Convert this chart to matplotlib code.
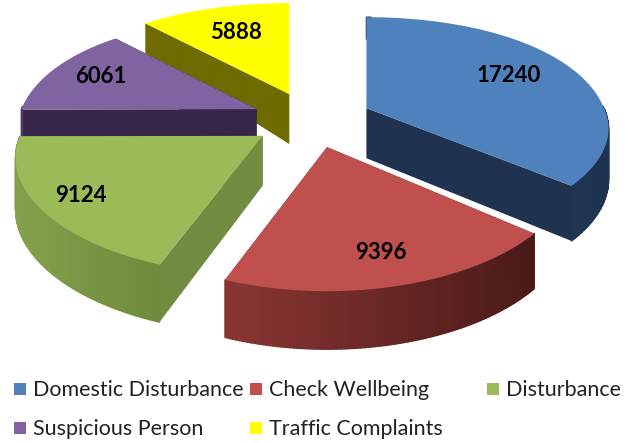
import numpy as np
import matplotlib
matplotlib.use("Agg")
import matplotlib.pyplot as plt
from matplotlib.collections import PolyCollection
from matplotlib.patches import Polygon, Rectangle

categories = ["Domestic Disturbance", "Check Wellbeing", "Disturbance", "Suspicious Person", "Traffic Complaints"]
values = [17240, 9396, 9124, 6061, 5888]
top_colors = ["#4F81BD", "#BF504D", "#9BBB59", "#8064A2", "#FFFF00"]
side_light = ["#23405F", "#8A3633", "#85A14C", "#4A3A60", "#8A8A00"]
side_dark = ["#1E3350", "#4A1A18", "#6E8A3C", "#3A2A50", "#6E6E00"]
cut_colors = ["#1F3350", "#5A2020", "#728C42", "#35264A", "#6E6C00"]
size_x = [0.99, 1.0, 1.01, 0.98, 1.0]
size_front = [0.88, 0.98, 0.95, 1.0, 1.0]
label_r = [0.72, 0.76, 0.82, 0.78, 0.72]
legend_x = [14, 250, 487, 14, 250]
legend_y = [389, 389, 389, 428, 428]

W, H = 637, 443
fig = plt.figure(figsize=(W/100, H/100), dpi=100)
ax = fig.add_axes([0, 0, 1, 1])
ax.set_xlim(0, W); ax.set_ylim(H, 0); ax.axis("off")

cx, cy, ex, ey = 312, 120, 60, 28
ry0, ky = 119, 28
rx, px = 240, 0.2
dc = 50

def rim(theta, i):
    s, v = np.sin(theta), -np.cos(theta)
    d = np.where(v < 0, dc+28*v, dc+8*v)
    sy = np.where(v > 0, size_front[i], 1.0)
    return s*rx*(1+px*v)*size_x[i], v*(ry0+ky*v)*sy, d

frac = np.array(values)/sum(values)
edges = np.concatenate([[0], np.cumsum(frac)])*2*np.pi
order = [4, 3, 0, 2, 1]
for i in order:
    a, b = edges[i], edges[i+1]
    mid = (a+b)/2
    ax0 = cx+ex*np.sin(mid); ay0 = cy-ey*np.cos(mid)
    t = np.linspace(a, b, 90)
    dx, dy, d = rim(t, i)
    X, Y = ax0+dx, ay0+dy
    z = order.index(i)*3
    for k in (0, -1):
        face = [(ax0, ay0), (X[k], Y[k]), (X[k], Y[k]+d[k]), (ax0, ay0+dc)]
        ax.add_patch(Polygon(face, closed=True, fc=cut_colors[i], ec="none", zorder=1+z))
    c0 = np.array(matplotlib.colors.to_rgb(side_light[i]))
    c1 = np.array(matplotlib.colors.to_rgb(side_dark[i]))
    polys, cols = [], []
    for j in range(len(t)-1):
        if np.cos((t[j]+t[j+1])/2) > 0.02 and abs(np.sin(t[j])) > 0:
            continue
        polys.append([(X[j], Y[j]), (X[j+1], Y[j+1]), (X[j+1], Y[j+1]+d[j+1]), (X[j], Y[j]+d[j])])
        f = (X[j]-X.min())/(X.max()-X.min()+1e-9)
        cols.append(c0*(1-f)+c1*f)
    if polys:
        ax.add_collection(PolyCollection(polys, facecolors=cols, edgecolors=cols, linewidths=1.0, zorder=2+z))
    ax.add_patch(Polygon(np.vstack([[ax0, ay0], np.column_stack([X, Y])]), closed=True,
                         fc=top_colors[i], ec="none", zorder=3+z))
    lx, ly, _ = rim(mid, i)
    ax.text(ax0+label_r[i]*lx, ay0+label_r[i]*ly, str(values[i]), ha="center", va="center",
            fontsize=16, fontweight="bold", family="Lato", color="black", zorder=40)

for n, name in enumerate(categories):
    ax.add_patch(Rectangle((legend_x[n], legend_y[n]-6), 12, 12, fc=top_colors[n], ec="none"))
    ax.text(legend_x[n]+19, legend_y[n]+1, name, ha="left", va="center",
            fontsize=15.5, family="Lato", color="#222222")

fig.savefig("out.png", dpi=100)
